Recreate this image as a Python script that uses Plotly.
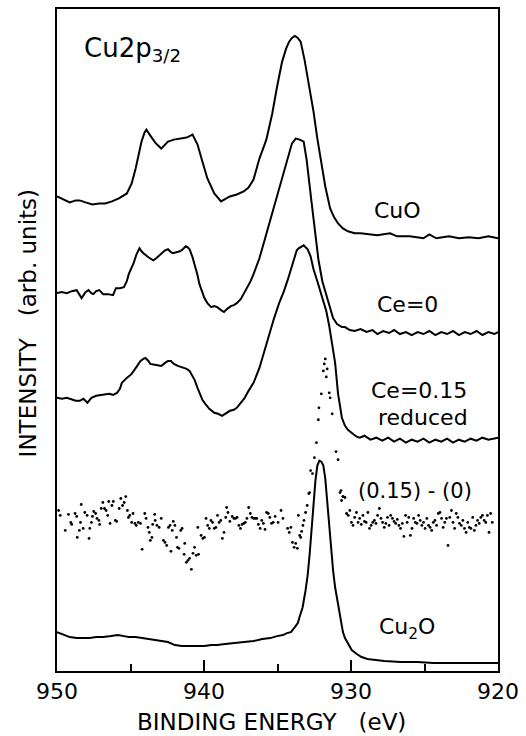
import plotly.graph_objects as go

# ---------------- data (binding energy in eV, intensity in arb. units) ----------------
E_cuo = [950.00, 949.60, 949.13, 948.73, 948.46, 948.06, 947.59, 947.13, 946.72, 946.26,
         945.79, 945.25, 944.92, 944.65, 944.45, 944.25, 944.05, 943.92, 943.65, 943.32,
         942.91, 942.45, 942.05, 941.58, 941.18, 940.78, 940.44, 940.11, 939.77, 939.30,
         938.84, 938.24, 937.77, 937.30, 936.97, 936.63, 936.23, 935.76, 935.36, 935.03,
         934.69, 934.42, 934.22, 934.02, 933.82, 933.62, 933.42, 933.16, 932.89, 932.55,
         932.29, 932.01, 931.75, 931.42, 931.15, 930.88, 930.55, 930.21, 929.75, 929.34,
         928.88, 928.21, 927.34, 926.87, 926.00, 925.07, 924.67, 924.20, 923.33, 922.66,
         921.99, 921.32, 920.65, 920.00]
I_cuo = [476, 473, 470, 472, 472, 470, 468, 469, 469, 471,
         474, 479, 489, 504, 519, 531, 540, 543, 537, 530,
         524, 531, 533, 534, 535, 538, 528, 511, 494, 479,
         471, 476, 478, 481, 485, 493, 514, 533, 559, 586,
         611, 624, 631, 635, 637, 635, 631, 613, 591, 561,
         534, 511, 486, 464, 455, 449, 444, 441, 439, 439,
         438, 437, 439, 436, 436, 434, 438, 434, 436, 434,
         435, 434, 436, 434]

E_ce0 = [950.00, 949.67, 949.33, 949.00, 948.66, 948.46, 948.33, 948.06, 947.86, 947.66,
         947.53, 947.33, 947.13, 946.99, 946.86, 946.52, 946.19, 945.99, 945.72, 945.45,
         945.25, 945.12, 944.92, 944.79, 944.59, 944.39, 944.25, 944.12, 943.78, 943.45,
         943.25, 942.98, 942.85, 942.65, 942.45, 942.25, 942.11, 941.91, 941.64, 941.44,
         941.24, 941.11, 940.98, 940.78, 940.64, 940.44, 940.31, 940.11, 939.97, 939.77,
         939.51, 939.30, 939.10, 938.84, 938.64, 938.44, 938.17, 937.97, 937.77, 937.50,
         937.30, 937.03, 936.83, 936.63, 936.23, 935.90, 935.56, 935.23, 934.89, 934.56,
         934.22, 934.02, 933.76, 933.49, 933.22, 933.02, 932.69, 932.35, 932.22, 931.95,
         931.75, 931.48, 931.22, 930.95, 930.62, 930.41, 930.08, 929.75, 929.35, 928.94,
         928.54, 928.21, 927.81, 927.41, 927.07, 926.67, 926.27, 925.87, 925.47, 925.07,
         924.67, 924.26, 923.86, 923.46, 923.06, 922.66, 922.26, 921.86, 921.46, 921.06,
         920.65, 920.25, 920.00]
I_ce0 = [379, 380, 379, 381, 382, 377, 374, 380, 382, 379,
         378, 381, 382, 380, 378, 378, 377, 384, 384, 385,
         391, 398, 404, 409, 418, 424, 421, 419, 415, 412,
         414, 418, 419, 422, 423, 420, 419, 420, 421, 423,
         426, 425, 423, 415, 408, 397, 388, 379, 374, 369,
         365, 366, 365, 362, 360, 363, 366, 367, 369, 373,
         378, 385, 391, 398, 414, 431, 449, 466, 483, 503,
         521, 529, 534, 533, 531, 513, 471, 431, 413, 391,
         381, 366, 354, 348, 345, 345, 342, 341, 343, 340,
         342, 338, 341, 339, 342, 338, 340, 337, 340, 338,
         341, 337, 340, 338, 341, 337, 340, 338, 341, 337,
         340, 338, 340]

E_ce15 = [950.00, 949.67, 949.33, 949.00, 948.73, 948.46, 948.20, 947.93, 947.66, 947.33,
          946.86, 946.46, 946.19, 945.92, 945.72, 945.59, 945.25, 944.92, 944.59, 944.32,
          944.12, 943.98, 943.78, 943.65, 943.25, 942.91, 942.65, 942.45, 942.25, 942.05,
          941.78, 941.44, 941.18, 940.98, 940.64, 940.44, 940.11, 939.91, 939.64, 939.30,
          939.04, 938.77, 938.50, 938.24, 937.97, 937.77, 937.50, 937.23, 936.97, 936.63,
          936.23, 935.90, 935.56, 935.23, 934.89, 934.56, 934.29, 934.09, 933.89, 933.69,
          933.56, 933.42, 933.22, 933.09, 932.95, 932.75, 932.55, 932.29, 932.09, 931.88,
          931.68, 931.48, 931.28, 931.08, 930.88, 930.75, 930.62, 930.41, 930.21, 929.88,
          929.61, 929.41, 929.08, 928.68, 928.28, 927.87, 927.47, 927.07, 926.67, 926.27,
          925.87, 925.47, 925.07, 924.67, 924.26, 923.86, 923.46, 923.06, 922.66, 922.26,
          921.86, 921.46, 921.06, 920.65, 920.00]
I_ce15 = [274, 273, 274, 272, 271, 271, 273, 269, 274, 276,
          277, 278, 277, 279, 283, 289, 294, 298, 305, 311,
          313, 314, 311, 308, 307, 306, 309, 311, 311, 308,
          306, 304, 303, 301, 292, 284, 272, 268, 263, 259,
          258, 256, 259, 261, 262, 264, 269, 274, 281, 289,
          304, 321, 338, 354, 369, 381, 393, 403, 414, 422,
          424, 425, 427, 425, 423, 416, 403, 391, 381, 373,
          361, 346, 329, 309, 278, 264, 254, 246, 242, 238,
          235, 234, 236, 232, 234, 231, 234, 230, 233, 229,
          232, 230, 233, 229, 232, 230, 233, 229, 232, 230,
          233, 231, 234, 232, 234]

E_cu2o = [950.00, 949.53, 949.13, 948.66, 948.20, 947.79, 947.33, 946.86, 946.32, 945.86,
          945.45, 945.12, 944.65, 944.18, 943.78, 943.32, 942.85, 942.45, 941.98, 941.51,
          941.11, 940.44, 939.97, 939.51, 939.10, 938.57, 937.97, 937.30, 936.63, 936.03,
          935.49, 935.03, 934.63, 934.36, 934.09, 933.82, 933.62, 933.42, 933.29, 933.09,
          932.95, 932.82, 932.69, 932.55, 932.42, 932.29, 932.15, 932.02, 931.88, 931.75,
          931.62, 931.48, 931.35, 931.22, 931.08, 930.88, 930.75, 930.55, 930.41, 930.15,
          929.95, 929.61, 929.28, 928.88, 928.41, 927.74, 926.60, 925.47, 924.40, 923.06,
          922.13, 921.06, 920.00]
I_cu2o = [39, 36, 34, 33, 33, 33, 34, 34, 35, 36,
          35, 34, 34, 33, 32, 31, 30, 29, 26, 25,
          25, 25, 25, 26, 26, 27, 28, 29, 30, 32,
          33, 35, 36, 38, 39, 44, 48, 58, 64, 81,
          96, 116, 141, 166, 191, 206, 211, 210, 206, 193,
          170, 140, 121, 101, 84, 66, 54, 39, 33, 26,
          21, 17, 14, 12, 11, 10, 9, 9, 8, 8,
          8, 8, 8]

# difference spectrum (0.15)-(0): individual points
E_diff_left = [949.89, 949.78, 949.44, 949.22, 949.06, 949.00, 948.77, 948.66, 948.62, 948.48,
               948.40, 948.35, 948.22, 948.11, 947.95, 947.82, 947.77, 947.66, 947.59, 947.50,
               947.37, 947.28, 947.15, 947.10, 946.99, 946.88, 946.77, 946.66, 946.55, 946.48,
               946.39, 946.26, 946.17, 946.03, 945.94, 945.77, 945.66, 945.54, 945.43, 945.32,
               945.21, 945.14, 945.05, 944.92, 944.83, 944.70, 944.61, 944.47, 944.32, 944.21,
               944.03, 943.94, 943.81, 943.72, 943.65, 943.54, 943.49, 943.36, 943.32, 943.20,
               943.05, 942.91, 942.76, 942.65, 942.54, 942.42, 942.31, 942.25, 942.16, 942.09,
               941.98, 941.87, 941.80, 941.71, 941.58, 941.49, 941.35, 941.31, 941.20, 941.09,
               940.98, 940.86, 940.75, 940.64, 940.53, 940.42, 940.37, 940.20, 940.08, 939.97,
               939.86, 939.75, 939.64, 939.53, 939.42, 939.30, 939.19, 939.08, 938.97, 938.86,
               938.75, 938.64, 938.52, 938.46, 938.37, 938.24, 938.08, 937.97, 937.86, 937.75,
               937.63, 937.52, 937.41, 937.30, 937.19, 937.08, 936.96, 936.85, 936.74, 936.63,
               936.52, 936.41, 936.30, 936.18, 936.07, 935.96, 935.85, 935.74, 935.63, 935.52,
               935.41, 935.29, 935.16, 934.96, 934.76, 934.63]
I_diff_left = [161, 156, 141, 157, 149, 147, 158, 155, 134, 141,
               149, 167, 143, 159, 156, 133, 143, 149, 155, 160,
               158, 153, 151, 147, 163, 169, 163, 161, 156, 170,
               148, 166, 170, 151, 150, 163, 173, 166, 169, 175,
               161, 154, 156, 149, 158, 148, 146, 149, 148, 122,
               158, 153, 144, 139, 131, 134, 147, 157, 151, 146,
               144, 153, 131, 129, 126, 144, 146, 120, 141, 150,
               146, 134, 124, 123, 141, 143, 117, 128, 109, 111,
               113, 102, 118, 124, 116, 144, 117, 136, 133, 134,
               153, 146, 143, 151, 149, 143, 144, 156, 149, 151,
               133, 139, 154, 164, 159, 150, 155, 153, 153, 154,
               146, 143, 147, 148, 149, 153, 164, 158, 154, 153,
               153, 153, 147, 143, 151, 148, 142, 159, 158, 154,
               148, 149, 155, 149, 161, 153]

E_diff_peak = [934.31, 934.20, 934.09, 933.98, 933.87, 933.76, 933.65, 933.58, 933.49, 933.42,
               933.36, 933.27, 933.20, 933.09, 932.98, 932.87, 932.82, 932.75, 932.62, 932.49,
               932.35, 932.22, 932.18, 932.02, 931.88, 931.82, 931.75, 931.68, 931.62, 931.48,
               931.42, 931.28, 931.02, 930.88, 930.68, 930.55, 930.41]
I_diff_peak = [143, 139, 144, 129, 124, 128, 123, 156, 136, 134,
               140, 146, 151, 159, 166, 178, 179, 201, 198, 214,
               229, 252, 264, 278, 301, 308, 313, 295, 303, 279,
               274, 258, 220, 212, 181, 175, 174]

E_diff_right = [930.75, 930.64, 930.53, 930.30, 930.19, 930.08, 929.97, 929.86, 929.75, 929.63,
                929.52, 929.41, 929.30, 929.19, 929.08, 928.97, 928.85, 928.74, 928.63, 928.52,
                928.41, 928.30, 928.19, 928.07, 927.96, 927.85, 927.74, 927.63, 927.52, 927.41,
                927.30, 927.18, 927.07, 926.96, 926.85, 926.74, 926.63, 926.51, 926.40, 926.29,
                926.18, 926.07, 925.96, 925.85, 925.74, 925.62, 925.51, 925.40, 925.29, 925.18,
                925.07, 924.96, 924.84, 924.73, 924.62, 924.51, 924.40, 924.29, 924.18, 924.06,
                923.95, 923.84, 923.73, 923.62, 923.51, 923.40, 923.28, 923.17, 923.06, 922.95,
                922.84, 922.73, 922.62, 922.50, 922.39, 922.28, 922.17, 922.06, 921.95, 921.84,
                921.72, 921.61, 921.50, 921.39, 921.28, 921.17, 921.06, 920.94, 920.83, 920.72,
                920.61, 920.50, 920.39]
I_diff_right = [179, 171, 175, 158, 156, 161, 149, 146, 154, 159,
                149, 153, 147, 156, 150, 149, 159, 143, 146, 149,
                151, 148, 156, 163, 153, 149, 144, 148, 154, 146,
                156, 153, 150, 148, 152, 146, 143, 148, 135, 156,
                149, 154, 136, 143, 153, 149, 148, 156, 151, 146,
                149, 143, 153, 146, 144, 141, 149, 151, 146, 158,
                159, 153, 144, 149, 153, 126, 154, 161, 149, 143,
                158, 154, 148, 146, 151, 143, 139, 149, 144, 143,
                154, 141, 146, 151, 148, 154, 156, 151, 149, 156,
                139, 158, 149]

major_ticks = [950, 940, 930, 920]
major_labels = ["950", "940", "930", "920"]
minor_ticks = [945, 935, 925]

FONT = "DejaVu Sans"

fig = go.Figure()
line_style = dict(color="black", width=2)
for ex, iy in [(E_cuo, I_cuo), (E_ce0, I_ce0), (E_ce15, I_ce15), (E_cu2o, I_cu2o)]:
    fig.add_trace(go.Scatter(x=ex, y=iy, mode="lines", line=line_style, hoverinfo="skip"))

fig.add_trace(go.Scatter(
    x=E_diff_left + E_diff_peak + E_diff_right,
    y=I_diff_left + I_diff_peak + I_diff_right,
    mode="markers", marker=dict(color="black", size=2.8), hoverinfo="skip"))

fig.update_layout(
    width=526, height=736,
    margin=dict(l=57, r=21, t=7, b=65),
    paper_bgcolor="white", plot_bgcolor="white",
    showlegend=False,
    font=dict(family=FONT, size=22, color="black"),
)
fig.update_xaxes(
    range=[950, 920], tickmode="array", tickvals=major_ticks, ticktext=major_labels,
    ticks="inside", ticklen=11, tickwidth=2, tickcolor="black",
    showline=True, linewidth=2, linecolor="black", mirror=True,
    showgrid=False, zeroline=False, tickfont=dict(size=22, family=FONT, color="black"),
    minor=dict(tickvals=minor_ticks, ticks="inside", ticklen=7, tickwidth=2,
               tickcolor="black", showgrid=False),
)
fig.update_yaxes(
    range=[0, 664], showticklabels=False, ticks="",
    showline=True, linewidth=2, linecolor="black", mirror=True,
    showgrid=False, zeroline=False,
)

def label(text, x, y, size=22, xanchor="center"):
    fig.add_annotation(text=text, x=x, y=y, xref="x", yref="y", showarrow=False,
                       xanchor=xanchor, yanchor="middle",
                       font=dict(family=FONT, size=size, color="black"))

label("Cu2p<sub>3/2</sub>", 948.33, 623, size=26, xanchor="left")
label("CuO", 926.87, 462)
label("Ce=0", 926.14, 368)
label("Ce=0.15", 925.40, 281)
label("reduced", 925.07, 254)
label("(0.15) - (0)", 925.67, 181, size=21)
label("Cu<sub>2</sub>O", 926.20, 43)

fig.add_annotation(text="BINDING ENERGY\u00a0\u00a0\u00a0(eV)", x=0.487, y=-0.077,
                   xref="paper", yref="paper", showarrow=False,
                   xanchor="center", yanchor="middle",
                   font=dict(family=FONT, size=23, color="black"))
fig.add_annotation(text="INTENSITY\u00a0\u00a0\u00a0(arb. units)", x=-0.065, y=0.5256,
                   xref="paper", yref="paper", showarrow=False, textangle=-90,
                   xanchor="center", yanchor="middle",
                   font=dict(family=FONT, size=23, color="black"))

fig.write_html("out.html")
